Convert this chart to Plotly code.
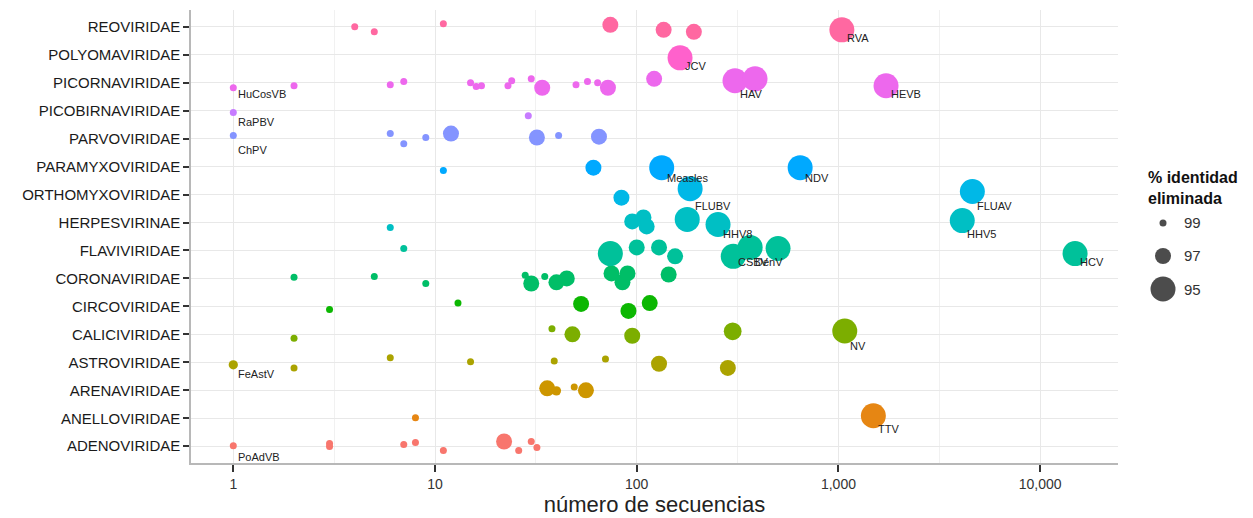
import math
import plotly.graph_objects as go

# Virus families, bottom to top on the y axis (alphabetical order also sets the hue)
families = [
    "ADENOVIRIDAE", "ANELLOVIRIDAE", "ARENAVIRIDAE", "ASTROVIRIDAE",
    "CALICIVIRIDAE", "CIRCOVIRIDAE", "CORONAVIRIDAE", "FLAVIVIRIDAE",
    "HERPESVIRINAE", "ORTHOMYXOVIRIDAE", "PARAMYXOVIRIDAE", "PARVOVIRIDAE",
    "PICOBIRNAVIRIDAE", "PICORNAVIRIDAE", "POLYOMAVIRIDAE", "REOVIRIDAE",
]

# One entry per virus: family, number of sequences, % identity removed,
# vertical jitter (in category units) and an optional text label
point_family = (
    ["REOVIRIDAE"] * 7
    + ["POLYOMAVIRIDAE"] * 1
    + ["PICORNAVIRIDAE"] * 19
    + ["PICOBIRNAVIRIDAE"] * 2
    + ["PARVOVIRIDAE"] * 8
    + ["PARAMYXOVIRIDAE"] * 4
    + ["ORTHOMYXOVIRIDAE"] * 3
    + ["HERPESVIRINAE"] * 7
    + ["FLAVIVIRIDAE"] * 9
    + ["CORONAVIRIDAE"] * 12
    + ["CIRCOVIRIDAE"] * 5
    + ["CALICIVIRIDAE"] * 6
    + ["ASTROVIRIDAE"] * 8
    + ["ARENAVIRIDAE"] * 4
    + ["ANELLOVIRIDAE"] * 2
    + ["ADENOVIRIDAE"] * 10
)

n_sequences = [
    4, 5, 11, 74, 136, 192, 1040,
    164,
    1, 2, 6, 7, 15, 16, 17, 23, 24, 30, 34, 50, 57, 64, 72, 122, 307, 386, 1722,
    1, 29,
    1, 6, 7, 9, 12, 32, 41, 65,
    11, 61, 133, 646,
    84, 184, 4613,
    6, 95, 108, 112, 178, 253, 4110,
    7, 74, 100, 129, 155, 301, 365, 502, 14900,
    2, 5, 9, 28, 30, 35, 40, 45, 75, 85, 90, 144,
    3, 13, 53, 91, 116,
    2, 38, 48, 95, 299, 1075,
    1, 2, 6, 15, 39, 70, 129, 283,
    36, 40, 49, 56,
    8, 1490,
    1, 3, 3, 7, 8, 11, 22, 26, 30, 32,
]

identity = [
    99, 99, 99, 97, 97, 97, 95,
    95,
    99, 99, 99, 99, 99, 99, 99, 99, 99, 99, 97, 99, 99, 99, 97, 97, 95, 95, 95,
    99, 99,
    99, 99, 99, 99, 97, 97, 99, 97,
    99, 97, 95, 95,
    97, 95, 95,
    99, 97, 97, 97, 95, 95, 95,
    99, 95, 97, 97, 97, 95, 95, 95, 95,
    99, 99, 99, 99, 97, 99, 97, 97, 97, 97, 97, 97,
    99, 99, 97, 97, 97,
    99, 99, 97, 97, 96.6, 95,
    98.5, 99, 99, 99, 99, 99, 97, 97,
    97, 98.5, 99, 97,
    99, 95,
    99, 99, 99, 99, 99, 99, 97, 99, 99, 99,
]

jitter = [
    0.00, -0.18, 0.11, 0.07, -0.11, -0.18, -0.11,
    -0.11,
    -0.18, -0.11, -0.07, 0.04, 0.00, -0.14, -0.11, -0.11, 0.07, 0.14, -0.18,
    -0.07, 0.04, 0.00, -0.18, 0.14, 0.07, 0.14, -0.11,
    -0.07, -0.18,
    0.11, 0.18, -0.18, 0.04, 0.18, 0.04, 0.11, 0.07,
    -0.14, -0.04, -0.04, -0.04,
    -0.11, 0.21, 0.11,
    -0.18, 0.04, 0.18, -0.14, 0.11, -0.07, 0.07,
    0.07, -0.11, 0.11, 0.11, -0.21, -0.21, 0.11, 0.07, -0.11,
    0.04, 0.07, -0.18, 0.11, -0.18, 0.07, -0.14, 0.00, 0.18, -0.14, 0.18, 0.14,
    -0.11, 0.12, 0.09, -0.16, 0.12,
    -0.14, 0.20, 0.00, -0.05, 0.11, 0.12,
    -0.09, -0.20, 0.16, 0.02, 0.05, 0.12, -0.05, -0.20,
    0.07, -0.02, 0.12, 0.00,
    0.02, 0.09,
    0.02, 0.10, -0.01, 0.06, 0.13, -0.15, 0.17, -0.15, 0.17, -0.05,
]

virus_label = [
    "", "", "", "", "", "", "RVA",
    "JCV",
    "HuCosVB", "", "", "", "", "", "", "", "", "", "", "", "", "", "", "", "HAV", "", "HEVB",
    "RaPBV", "",
    "ChPV", "", "", "", "", "", "", "",
    "", "", "Measles", "NDV",
    "", "FLUBV", "FLUAV",
    "", "", "", "", "", "HHV8", "HHV5",
    "", "", "", "", "", "CSBV", "DenV", "", "HCV",
    "", "", "", "", "", "", "", "", "", "", "", "",
    "", "", "", "", "",
    "", "", "", "", "", "NV",
    "FeAstV", "", "", "", "", "", "", "",
    "", "", "", "",
    "", "TTV",
    "PoAdVB", "", "", "", "", "", "", "", "", "",
]

# Size legend levels
legend_levels = [99, 97, 95]

# Axis ticks
x_tickvals = [1, 10, 100, 1000, 10000]
x_ticktext = ["1", "10", "100", "1,000", "10,000"]
x_minor_vals = [10 ** 0.5, 10 ** 1.5, 10 ** 2.5, 10 ** 3.5]

FONT = "Liberation Sans, Arial, sans-serif"


def hcl_hex(h, c=100.0, l=65.0):
    """Polar CIELUV -> sRGB hex (same scheme as ggplot's default hue palette)."""
    hr = math.radians(h)
    u, v = c * math.cos(hr), c * math.sin(hr)
    xn, yn, zn = 95.047, 100.0, 108.883
    den = xn + 15 * yn + 3 * zn
    un, vn = 4 * xn / den, 9 * yn / den
    Y = yn * ((l + 16) / 116) ** 3
    up, vp = u / (13 * l) + un, v / (13 * l) + vn
    X = Y * 9 * up / (4 * vp)
    Z = Y * (12 - 3 * up - 20 * vp) / (4 * vp)
    x, y, z = X / 100, Y / 100, Z / 100
    rgb = [
        3.240479 * x - 1.537150 * y - 0.498535 * z,
        -0.969256 * x + 1.875992 * y + 0.041556 * z,
        0.055648 * x - 0.204043 * y + 1.057311 * z,
    ]
    out = []
    for ch in rgb:
        ch = 12.92 * ch if ch <= 0.0031308 else 1.055 * ch ** (1 / 2.4) - 0.055
        out.append(int(round(max(0.0, min(1.0, ch)) * 255)))
    return "#{:02x}{:02x}{:02x}".format(*out)


n_fam = len(families)
hues = [15 + i * 360 / n_fam for i in range(n_fam)]
family_color = {f: hcl_hex(h) for f, h in zip(families, hues)}
row_of = {f: i for i, f in enumerate(families)}


def marker_diameter(pct):
    # lower identity threshold -> larger point
    return 7 + 4.5 * (99 - pct)


fig = go.Figure()

for fam in families:
    idx = [i for i, f in enumerate(point_family) if f == fam]
    if not idx:
        continue
    fig.add_trace(go.Scatter(
        x=[n_sequences[i] for i in idx],
        y=[row_of[fam] + jitter[i] for i in idx],
        mode="markers",
        marker=dict(
            size=[marker_diameter(identity[i]) for i in idx],
            color=family_color[fam],
            line=dict(width=0),
            opacity=1,
        ),
        showlegend=False,
        hoverinfo="x+name",
        name=fam,
    ))

# Virus name labels, placed just below each family row
annotations = []
for i, lab in enumerate(virus_label):
    if not lab:
        continue
    annotations.append(dict(
        x=math.log10(n_sequences[i]),
        y=row_of[point_family[i]] - 0.4,
        xref="x", yref="y",
        text=lab, showarrow=False,
        xanchor="left", yanchor="middle", xshift=3,
        font=dict(family=FONT, size=11, color="#222222"),
    ))

# Size key drawn on its own small axes to the right of the panel
fig.add_trace(go.Scatter(
    x=[0] * len(legend_levels),
    y=list(range(len(legend_levels))),
    mode="markers",
    marker=dict(size=[marker_diameter(v) for v in legend_levels], color="black", line=dict(width=0)),
    xaxis="x2", yaxis="y2",
    showlegend=False, hoverinfo="skip", cliponaxis=False,
))
for k, v in enumerate(legend_levels):
    annotations.append(dict(
        x=19, y=k, xref="x2", yref="y2",
        text=str(v), showarrow=False,
        xanchor="left", yanchor="middle",
        font=dict(family=FONT, size=15, color="#333333"),
    ))
annotations.append(dict(
    x=-17, y=-1.7, xref="x2", yref="y2",
    text="<b>% identidad<br>eliminada</b>", showarrow=False,
    xanchor="left", yanchor="top", align="left",
    font=dict(family=FONT, size=16, color="#111111"),
))

fig.update_layout(
    width=1253, height=518,
    margin=dict(l=191, r=0, t=10, b=55),
    paper_bgcolor="white", plot_bgcolor="white",
    annotations=annotations,
    xaxis=dict(
        type="log",
        domain=[0, 0.87288],
        range=[-0.2097, 4.386],
        tickmode="array", tickvals=x_tickvals, ticktext=x_ticktext,
        ticks="outside", ticklen=7, tickwidth=1.5, tickcolor="#333333",
        tickfont=dict(family=FONT, size=14, color="#333333"),
        showgrid=True, gridcolor="#e8e8e8", gridwidth=1.3,
        minor=dict(tickmode="array", tickvals=x_minor_vals, showgrid=True,
                   gridcolor="#f1f1f1", gridwidth=1, ticks=""),
        showline=True, linecolor="#b8b8b8", linewidth=1.5,
        zeroline=False,
        title=dict(text="número de secuencias", standoff=6,
                   font=dict(family=FONT, size=22, color="#222222")),
    ),
    yaxis=dict(
        range=[-0.6, n_fam - 0.4],
        tickmode="array", tickvals=list(range(n_fam)), ticktext=families,
        ticks="outside", ticklen=6, tickwidth=1.5, tickcolor="#333333",
        tickfont=dict(family=FONT, size=15, color="#1a1a1a"),
        showgrid=True, gridcolor="#e8e8e8", gridwidth=1.3,
        showline=True, linecolor="#b8b8b8", linewidth=1.5,
        zeroline=False,
    ),
    xaxis2=dict(domain=[0.8842, 1.0], range=[-33, 90], visible=False, fixedrange=True),
    yaxis2=dict(domain=[0, 1], range=[7.27, -6.45], visible=False, fixedrange=True, anchor="x2"),
)

fig.write_html("out.html")
